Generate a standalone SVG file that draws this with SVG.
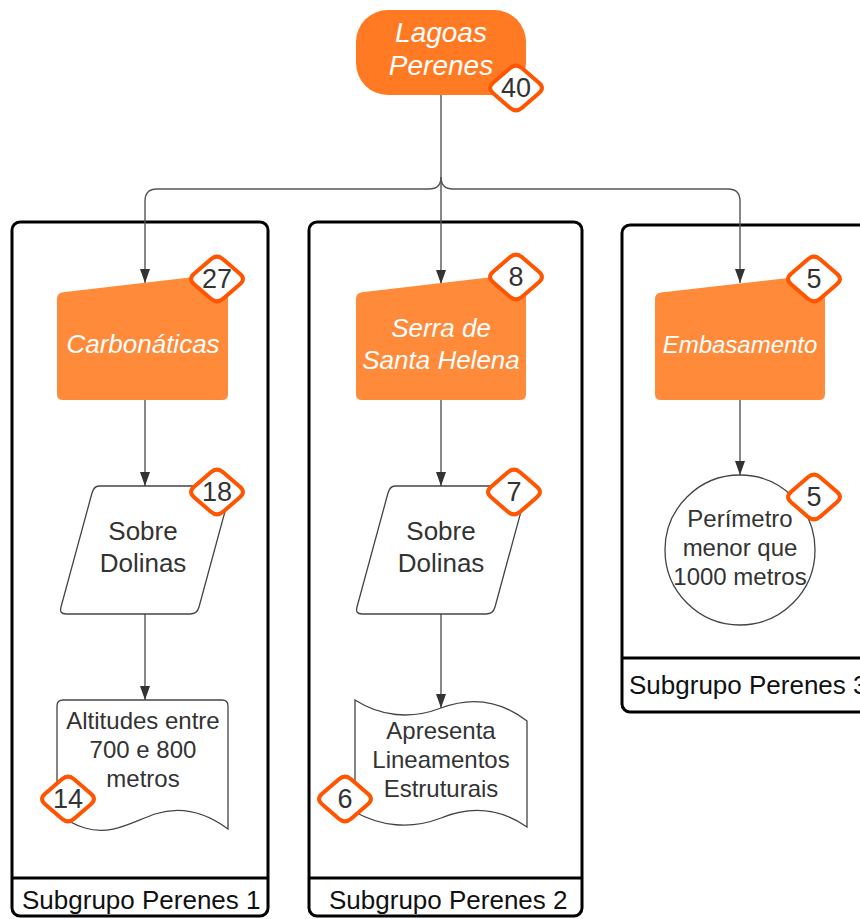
<svg xmlns="http://www.w3.org/2000/svg" width="860" height="919" viewBox="0 0 860 919">
  <style>
    .frame { fill: #ffffff; stroke: #000000; stroke-width: 3; }
    .divider { stroke: #000000; stroke-width: 3; fill: none; }
    .group-label { font-family: "Liberation Sans", Arial, sans-serif; font-size: 26px; fill: #111111; }
    .head { fill: #FF7A22; }
    .sub { fill: #FF8A3A; }
    .head-text { font-family: "Liberation Sans", Arial, sans-serif; font-style: italic; fill: #ffffff; text-anchor: middle; }
    .plain { fill: #ffffff; stroke: #444444; stroke-width: 1.3; }
    .body-text { font-family: "Liberation Sans", Arial, sans-serif; fill: #333333; text-anchor: middle; }
    .badge { fill: #ffffff; stroke: #FF5500; stroke-width: 4; }
    .badge-text { font-family: "Liberation Sans", Arial, sans-serif; font-size: 27px; fill: #333333; text-anchor: middle; dominant-baseline: central; }
    .link { fill: none; stroke: #555555; stroke-width: 1.4; }
  </style>
  <defs>
    <marker id="arrow" viewBox="0 0 14 10" refX="14" refY="5" markerWidth="14" markerHeight="10" markerUnits="userSpaceOnUse" orient="auto">
      <path d="M0,0 L14,5 L0,10 Z" fill="#333333"/>
    </marker>
    <path id="badge-shape" d="M -22.9,-5.2 L -6.1,-19.8 Q 0,-25 6.1,-19.8 L 22.9,-5.2 Q 29,0 22.9,5.2 L 6.1,19.8 Q 0,25 -6.1,19.8 L -22.9,5.2 Q -29,0 -22.9,-5.2 Z"/>
  </defs>

  <!-- subgroup frames -->
  <g id="subgroup-1">
    <rect class="frame" x="12" y="222" width="256" height="694" rx="8"/>
    <line class="divider" x1="12" y1="878" x2="268" y2="878"/>
    <text class="group-label" x="22" y="909">Subgrupo Perenes 1</text>
  </g>
  <g id="subgroup-2">
    <rect class="frame" x="309" y="222" width="273" height="694" rx="8"/>
    <line class="divider" x1="309" y1="878" x2="582" y2="878"/>
    <text class="group-label" x="329" y="909">Subgrupo Perenes 2</text>
  </g>
  <g id="subgroup-3">
    <rect class="frame" x="622" y="225" width="260" height="487" rx="8"/>
    <line class="divider" x1="622" y1="658" x2="882" y2="658"/>
    <text class="group-label" x="629" y="694">Subgrupo Perenes 3</text>
  </g>

  <!-- connectors -->
  <g id="connectors">
    <path class="link" d="M441,95 L441,284" marker-end="url(#arrow)"/>
    <path class="link" d="M441,177 Q441,189 429,189 L157,189 Q145,189 145,201 L145,283" marker-end="url(#arrow)"/>
    <path class="link" d="M441,177 Q441,189 453,189 L728,189 Q740,189 740,201 L740,283" marker-end="url(#arrow)"/>
    <path class="link" d="M145,400 L145,486" marker-end="url(#arrow)"/>
    <path class="link" d="M145,614 L145,700" marker-end="url(#arrow)"/>
    <path class="link" d="M441,400 L441,486" marker-end="url(#arrow)"/>
    <path class="link" d="M441,614 L441,708" marker-end="url(#arrow)"/>
    <path class="link" d="M740,400 L740,475" marker-end="url(#arrow)"/>
  </g>

  <!-- root -->
  <g id="lagoas-perenes">
    <rect class="head" x="356" y="10" width="170" height="85" rx="32"/>
    <text class="head-text" font-size="28" x="441" y="42">Lagoas</text>
    <text class="head-text" font-size="28" x="441" y="75">Perenes</text>
    <use href="#badge-shape" class="badge" transform="translate(516,88)"/>
    <text class="badge-text" x="516" y="88">40</text>
  </g>

  <!-- column 1 -->
  <g id="carbonaticas">
    <path class="sub" d="M57,299 Q57,293 63,292.3 L222,273.7 Q228,273 228,279 L228,394 Q228,400 222,400 L63,400 Q57,400 57,394 Z"/>
    <text class="head-text" font-size="26" x="143" y="353">Carbonáticas</text>
    <use href="#badge-shape" class="badge" transform="translate(217,279)"/>
    <text class="badge-text" x="217" y="279">27</text>
  </g>
  <g id="sobre-dolinas-1">
    <path class="plain" d="M99,486 L225,486 Q232,486 230,493 L199,607 Q197,614 190,614 L66,614 Q59,614 61,607 L92,493 Q94,486 99,486 Z"/>
    <text class="body-text" font-size="26" x="143" y="540">Sobre</text>
    <text class="body-text" font-size="26" x="143" y="572">Dolinas</text>
    <use href="#badge-shape" class="badge" transform="translate(217,492)"/>
    <text class="badge-text" x="217" y="492">18</text>
  </g>
  <g id="altitudes">
    <path class="plain" d="M57,706 Q57,700 63,700 L222,700 Q228,700 228,706 L228,829 C205,812 180,806 155,814 C130,823 110,836 85,828 C72,824 63,818 57,813 Z"/>
    <text class="body-text" font-size="24" x="143" y="729">Altitudes entre</text>
    <text class="body-text" font-size="24" x="143" y="758">700 e 800</text>
    <text class="body-text" font-size="24" x="143" y="787">metros</text>
    <use href="#badge-shape" class="badge" transform="translate(68,799)"/>
    <text class="badge-text" x="68" y="799">14</text>
  </g>

  <!-- column 2 -->
  <g id="serra-santa-helena">
    <path class="sub" d="M356,299 Q356,293 362,292.3 L520,273.7 Q526,273 526,279 L526,394 Q526,400 520,400 L362,400 Q356,400 356,394 Z"/>
    <text class="head-text" font-size="26" x="441" y="337">Serra de</text>
    <text class="head-text" font-size="26" x="441" y="369">Santa Helena</text>
    <use href="#badge-shape" class="badge" transform="translate(516,277)"/>
    <text class="badge-text" x="516" y="277">8</text>
  </g>
  <g id="sobre-dolinas-2">
    <path class="plain" d="M395,486 L521,486 Q528,486 526,493 L495,607 Q493,614 486,614 L362,614 Q355,614 357,607 L388,493 Q390,486 395,486 Z"/>
    <text class="body-text" font-size="26" x="441" y="540">Sobre</text>
    <text class="body-text" font-size="26" x="441" y="572">Dolinas</text>
    <use href="#badge-shape" class="badge" transform="translate(514,492)"/>
    <text class="badge-text" x="514" y="492">7</text>
  </g>
  <g id="lineamentos">
    <path class="plain" d="M355,700 C380,716 410,720 441,708 C470,697 500,700 527,721 L527,827 C500,808 470,806 441,818 C410,830 380,826 355,812 Z"/>
    <text class="body-text" font-size="24" x="441" y="739">Apresenta</text>
    <text class="body-text" font-size="24" x="441" y="768">Lineamentos</text>
    <text class="body-text" font-size="24" x="441" y="797">Estruturais</text>
    <use href="#badge-shape" class="badge" transform="translate(345,799)"/>
    <text class="badge-text" x="345" y="799">6</text>
  </g>

  <!-- column 3 -->
  <g id="embasamento">
    <path class="sub" d="M655,299 Q655,293 661,292.4 L819,274.6 Q825,274 825,280 L825,394 Q825,400 819,400 L661,400 Q655,400 655,394 Z"/>
    <text class="head-text" font-size="24" x="740" y="353">Embasamento</text>
    <use href="#badge-shape" class="badge" transform="translate(814,279)"/>
    <text class="badge-text" x="814" y="279">5</text>
  </g>
  <g id="perimetro">
    <circle class="plain" cx="740" cy="550" r="75"/>
    <text class="body-text" font-size="24" x="740" y="527">Perímetro</text>
    <text class="body-text" font-size="24" x="740" y="556">menor que</text>
    <text class="body-text" font-size="24" x="740" y="585">1000 metros</text>
    <use href="#badge-shape" class="badge" transform="translate(814,497)"/>
    <text class="badge-text" x="814" y="497">5</text>
  </g>
</svg>
